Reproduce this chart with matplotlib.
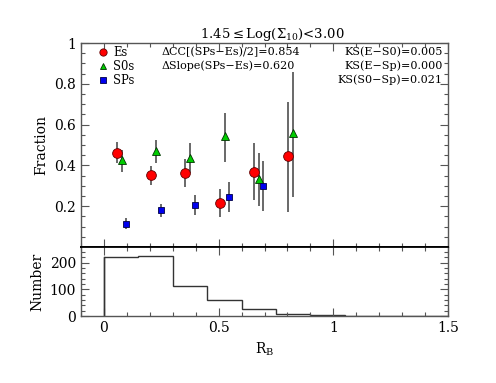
import matplotlib.pyplot as plt
from matplotlib.ticker import MultipleLocator

# fraction vs R_B
x_es = [0.058, 0.206, 0.355, 0.506, 0.654, 0.804]
f_es = [0.462, 0.351, 0.361, 0.216, 0.369, 0.444]
lo_es = [0.410, 0.304, 0.293, 0.149, 0.230, 0.173]
hi_es = [0.516, 0.397, 0.430, 0.283, 0.508, 0.710]

x_s0 = [0.077, 0.228, 0.377, 0.527, 0.676, 0.825]
f_s0 = [0.425, 0.471, 0.435, 0.542, 0.333, 0.559]
lo_s0 = [0.369, 0.413, 0.361, 0.418, 0.201, 0.247]
hi_s0 = [0.475, 0.525, 0.508, 0.655, 0.459, 0.858]

x_sp = [0.097, 0.247, 0.396, 0.547, 0.694]
f_sp = [0.114, 0.180, 0.204, 0.244, 0.299]
lo_sp = [0.088, 0.149, 0.157, 0.172, 0.178]
hi_sp = [0.141, 0.211, 0.255, 0.317, 0.422]

# histogram of R_B
bin_edges = [0, 0.15, 0.3, 0.45, 0.6, 0.75, 0.9, 1.05, 1.2, 1.35, 1.5]
counts = [222, 226, 112, 59, 26, 9, 4, 1, 1, 0]

plt.rcParams['font.family'] = 'DejaVu Serif'
plt.rcParams['mathtext.fontset'] = 'dejavuserif'

fig = plt.figure(figsize=(4.96, 3.83), dpi=100)
ax1 = fig.add_axes([0.1633, 0.3551, 0.74, 0.5326])
ax2 = fig.add_axes([0.1633, 0.1749, 0.74, 0.1802])

ecol = '#404040'


def err(f, lo, hi):
    return [[a - b for a, b in zip(f, lo)], [b - a for a, b in zip(f, hi)]]


ax1.errorbar(x_es, f_es, yerr=err(f_es, lo_es, hi_es), fmt='o', color='red',
             mec='#600000', mew=0.6, ms=7, ecolor=ecol, elinewidth=1.1, capsize=0,
             label='Es', zorder=3)
ax1.errorbar(x_s0, f_s0, yerr=err(f_s0, lo_s0, hi_s0), fmt='^', color='#00cc00',
             mec='#003300', mew=0.6, ms=6, ecolor=ecol, elinewidth=1.1, capsize=0,
             label='S0s', zorder=3)
ax1.errorbar(x_sp, f_sp, yerr=err(f_sp, lo_sp, hi_sp), fmt='s', color='#0000ee',
             mec='#000044', mew=0.6, ms=5, ecolor=ecol, elinewidth=1.1, capsize=0,
             label='SPs', zorder=3)

ax1.set_xlim(-0.1, 1.5)
ax1.set_ylim(0, 1)
ax1.set_yticks([0.2, 0.4, 0.6, 0.8, 1.0])
ax1.set_yticklabels(['0.2', '0.4', '0.6', '0.8', '1'])
ax1.yaxis.set_minor_locator(MultipleLocator(0.05))
ax1.xaxis.set_major_locator(MultipleLocator(0.5))
ax1.xaxis.set_minor_locator(MultipleLocator(0.1))
ax1.tick_params(labelbottom=False)
ax1.set_ylabel('Fraction', fontsize=10)
ax1.set_title(r'1.45$\leq$Log($\Sigma_{10}$)<3.00', fontsize=9.5, pad=2, x=0.52)

handles, labels = ax1.get_legend_handles_labels()
handles = [h[0] for h in handles]
leg = ax1.legend(handles, labels, loc='upper left', frameon=False, fontsize=8.3,
                 handletextpad=0.4, handlelength=1.0, labelspacing=0.08,
                 borderaxespad=0, borderpad=0.2, markerscale=0.75,
                 bbox_to_anchor=(0.037, 0.995))

fs = 8
ax1.text(0.22, 0.955, 'ΔCC[(SPs−Es)/2]=0.854', transform=ax1.transAxes,
         fontsize=fs, va='center')
ax1.text(0.22, 0.887, 'ΔSlope(SPs−Es)=0.620', transform=ax1.transAxes,
         fontsize=fs, va='center')
ax1.text(0.985, 0.955, 'KS(E−S0)=0.005', transform=ax1.transAxes,
         fontsize=fs, va='center', ha='right')
ax1.text(0.985, 0.887, 'KS(E−Sp)=0.000', transform=ax1.transAxes,
         fontsize=fs, va='center', ha='right')
ax1.text(0.985, 0.818, 'KS(S0−Sp)=0.021', transform=ax1.transAxes,
         fontsize=fs, va='center', ha='right')

ax2.stairs(counts, bin_edges, color='#333333', linewidth=1.0, baseline=0)
ax2.plot([0, 0], [0, counts[0]], color='#333333', linewidth=1.0)
ax2.set_xlim(-0.1, 1.5)
ax2.set_ylim(0, 258)
ax2.set_yticks([0, 100, 200])
ax2.yaxis.set_minor_locator(MultipleLocator(20))
ax2.xaxis.set_major_locator(MultipleLocator(0.5))
ax2.xaxis.set_minor_locator(MultipleLocator(0.1))
ax2.set_xticks([0, 0.5, 1, 1.5])
ax2.set_xticklabels(['0', '0.5', '1', '1.5'])
ax2.set_ylabel('Number', fontsize=10)
ax2.set_xlabel(r'R$_\mathregular{B}$', fontsize=10)

for ax in (ax1, ax2):
    ax.tick_params(which='both', direction='in', top=True, right=True,
                   labelsize=10, color='#555555', width=0.8)
    ax.tick_params(which='major', length=6)
    ax.tick_params(which='minor', length=3)
    for s in ax.spines.values():
        s.set_color('#555555')
        s.set_linewidth(1.0)
ax1.spines['bottom'].set_color('black')
ax1.spines['bottom'].set_linewidth(1.3)
ax2.spines['top'].set_color('black')
ax2.spines['top'].set_linewidth(1.3)

fig.align_ylabels([ax1, ax2])
fig.savefig('out.png', dpi=100)
